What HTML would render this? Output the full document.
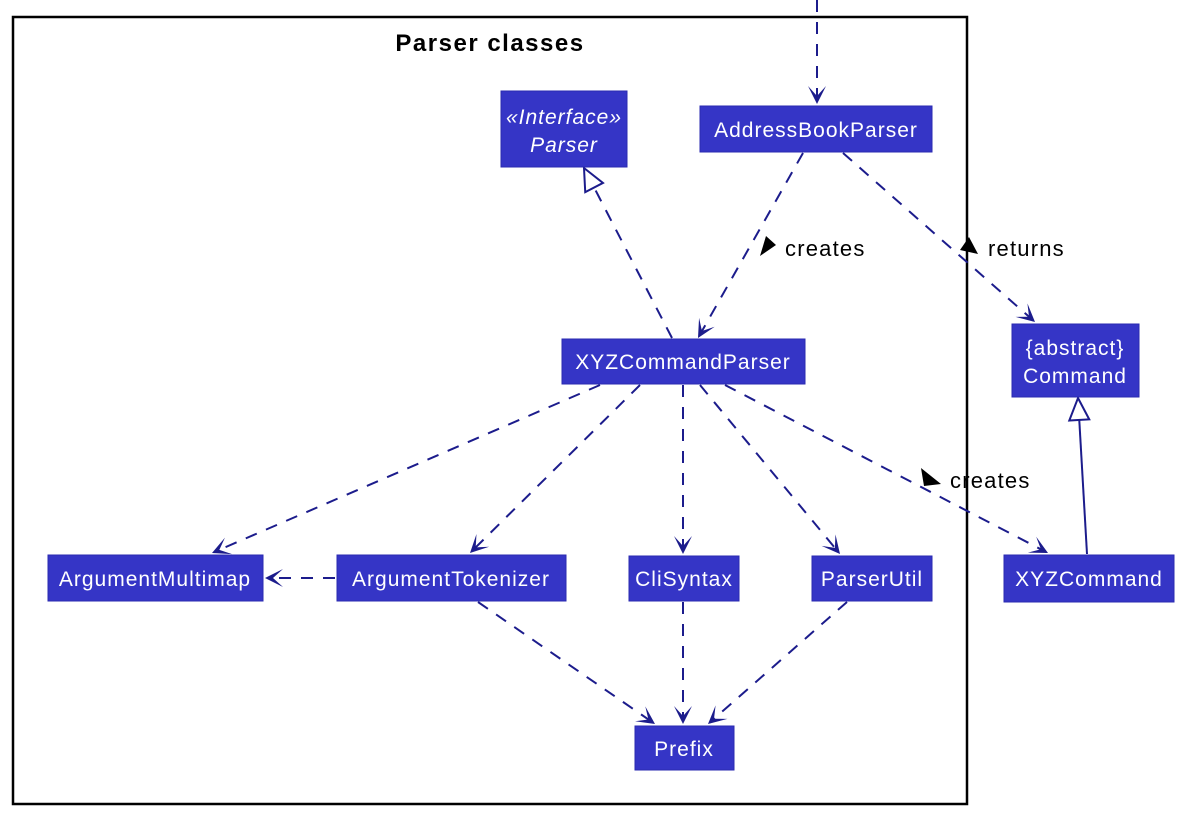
<!DOCTYPE html>
<html><head><meta charset="utf-8"><style>
html,body{margin:0;padding:0;background:#fff;}
svg{display:block;}
text{font-family:"Liberation Sans",sans-serif;}
.b{fill:#3535c6;stroke:#2a2ab0;stroke-width:1}
.t{fill:#fff;font-size:21px;text-anchor:middle;letter-spacing:1px;}
.l{fill:#000;font-size:22px;letter-spacing:1.2px;}
</style></head><body>
<svg id="s" width="1182" height="814" viewBox="0 0 1182 814" xmlns="http://www.w3.org/2000/svg">
<rect x="13" y="17" width="954" height="787" fill="none" stroke="#000" stroke-width="2.5"/>
<text x="490" y="51" text-anchor="middle" font-size="24" font-weight="bold" letter-spacing="1.5" fill="#000">Parser classes</text>
<g id="lines"></g>
<rect class="b" x="501" y="91" width="126" height="76"/>
<text class="t" x="564" y="124" font-style="italic">«Interface»</text>
<text class="t" x="564" y="152" font-style="italic">Parser</text>
<rect class="b" x="700" y="106" width="232" height="46"/>
<text class="t" x="816" y="137">AddressBookParser</text>
<rect class="b" x="562" y="339" width="243" height="45"/>
<text class="t" x="683" y="369">XYZCommandParser</text>
<rect class="b" x="1012" y="324" width="127" height="73"/>
<text class="t" x="1075" y="355">{abstract}</text>
<text class="t" x="1075" y="383">Command</text>
<rect class="b" x="48" y="555" width="215" height="46"/>
<text class="t" x="155" y="586">ArgumentMultimap</text>
<rect class="b" x="337" y="555" width="229" height="46"/>
<text class="t" x="451" y="586">ArgumentTokenizer</text>
<rect class="b" x="629" y="556" width="110" height="45"/>
<text class="t" x="684" y="586">CliSyntax</text>
<rect class="b" x="812" y="556" width="120" height="45"/>
<text class="t" x="872" y="586">ParserUtil</text>
<rect class="b" x="1004" y="555" width="170" height="47"/>
<text class="t" x="1089" y="586">XYZCommand</text>
<rect class="b" x="635" y="726" width="99" height="44"/>
<text class="t" x="684" y="756">Prefix</text>
<polygon points="760,256 776,245 766,236" fill="#000"/>
<text class="l" x="785" y="256">creates</text>
<polygon points="960,250 978,254 969,237" fill="#000"/>
<text class="l" x="988" y="256">returns</text>
<polygon points="921,468 941,484 924,486" fill="#000"/>
<text class="l" x="950" y="488">creates</text>
</svg>
<script>
var g=document.getElementById('lines'),NS='http://www.w3.org/2000/svg',C='#1c1c8c';
function line(x1,y1,x2,y2,dash){var l=document.createElementNS(NS,'line');l.setAttribute('x1',x1);l.setAttribute('y1',y1);l.setAttribute('x2',x2);l.setAttribute('y2',y2);l.setAttribute('stroke',C);l.setAttribute('stroke-width','2');if(dash)l.setAttribute('stroke-dasharray','12,10');g.appendChild(l);}
function dep(x1,y1,x2,y2){line(x1,y1,x2-2*Math.cos(Math.atan2(y2-y1,x2-x1)),y2-2*Math.sin(Math.atan2(y2-y1,x2-x1)),true);var a=Math.atan2(y2-y1,x2-x1),c=Math.cos(a),s=Math.sin(a);
function p(b,w){return (x2-b*c-w*s)+','+(y2-b*s+w*c);}
var pg=document.createElementNS(NS,'polygon');pg.setAttribute('points',x2+','+y2+' '+p(18,9)+' '+p(8,0)+' '+p(18,-9));pg.setAttribute('fill',C);g.appendChild(pg);}
function real(x1,y1,x2,y2,dash){var a=Math.atan2(y2-y1,x2-x1),c=Math.cos(a),s=Math.sin(a);var bx=x2-22*c,by=y2-22*s;line(x1,y1,bx,by,dash);
var pg=document.createElementNS(NS,'polygon');pg.setAttribute('points',x2+','+y2+' '+(bx-10*s)+','+(by+10*c)+' '+(bx+10*s)+','+(by-10*c));pg.setAttribute('fill','#fff');pg.setAttribute('stroke',C);pg.setAttribute('stroke-width','2');g.appendChild(pg);}
dep(817,0,817,104);
dep(803,153,698,338);
dep(843,153,1035,322);
real(672,338,584,168,true);
real(1087,554,1078,398,false);
dep(600,385,212,553);
dep(640,385,470,553);
dep(683,385,683,554);
dep(700,385,840,554);
dep(725,385,1048,553);
dep(335,578,265,578);
dep(478,602,655,724);
dep(683,602,683,724);
dep(847,602,708,724);
</script>
</body></html>
